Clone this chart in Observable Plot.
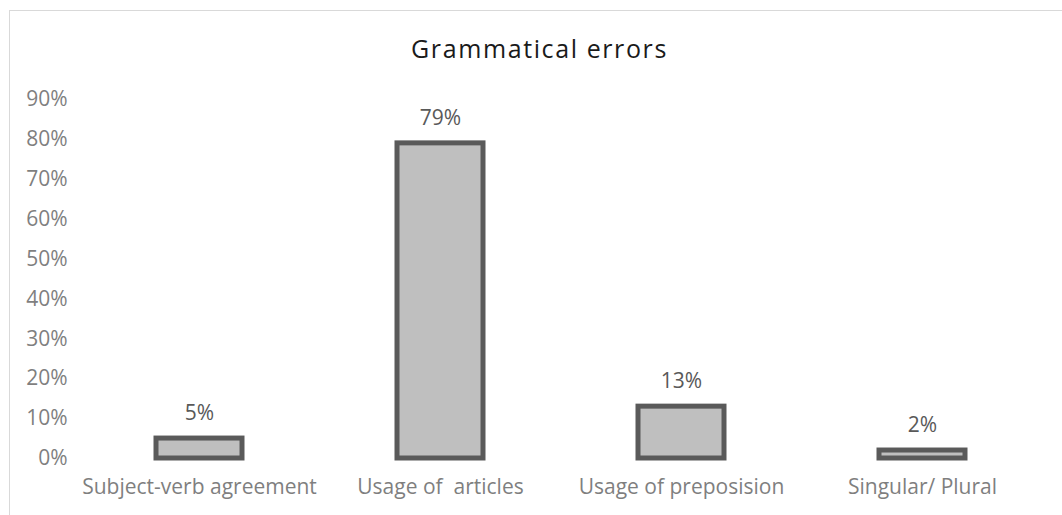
<!DOCTYPE html>
<html>
<head>
<meta charset="utf-8">
<script src="https://cdn.jsdelivr.net/npm/d3@7"></script>
<script src="https://cdn.jsdelivr.net/npm/@observablehq/plot@0.6"></script>
<style>
  html, body { margin: 0; padding: 0; background: #fff; }
  #frame {
    position: absolute; left: 9px; top: 10px; width: 1053px; height: 505px;
    border-top: 1px solid #d9d9d9; border-left: 1px solid #d9d9d9; box-sizing: border-box;
  }
  #title {
    position: absolute; left: 17px; top: 0; width: 1045px; height: 80px;
    font-family: "Open Sans", sans-serif; font-size: 25px; color: #1a1a1a;
    text-align: center; line-height: 96px; letter-spacing: 1.6px;
  }
  #chart { position: absolute; left: 0; top: 80px; }
</style>
</head>
<body>
<div id="frame"></div>
<div id="title">Grammatical errors</div>
<div id="chart"></div>
<script>
const categories = ["Subject-verb agreement", "Usage of  articles", "Usage of preposision", "Singular/ Plural"];
const values = [0.05, 0.79, 0.13, 0.02];
const valueLabels = ["5%", "79%", "13%", "2%"];
const yTicks = [0, 0.1, 0.2, 0.3, 0.4, 0.5, 0.6, 0.7, 0.8, 0.9];

const data = categories.map((c, i) => ({cat: c, val: values[i], label: valueLabels[i]}));

const chart = Plot.plot({
  width: 1062,
  height: 435,
  marginTop: 19,
  marginBottom: 57,
  marginLeft: 83,
  marginRight: 24,
  style: {fontFamily: "Open Sans, sans-serif", fontSize: "21px", background: "transparent"},
  x: {domain: categories, paddingInner: 0.645, paddingOuter: 0.3, label: null},
  y: {domain: [0, 0.9], label: null},
  marks: [
    Plot.barY(data, {x: "cat", y: "val", fill: "#bfbfbf", stroke: "#5a5a5a", strokeWidth: 5}),
    Plot.text(data, {x: "cat", y: "val", text: "label", dy: -25, fill: "#595959", fontSize: 21}),
    Plot.axisY({ticks: yTicks, tickFormat: d3.format(".0%"), tickSize: 0, tickPadding: 16, fill: "#7f7f7f", fontSize: 21}),
    Plot.axisX({tickSize: 0, tickPadding: 21, fill: "#7f7f7f", fontSize: 21})
  ]
});
document.getElementById("chart").appendChild(chart);
</script>
</body>
</html>
